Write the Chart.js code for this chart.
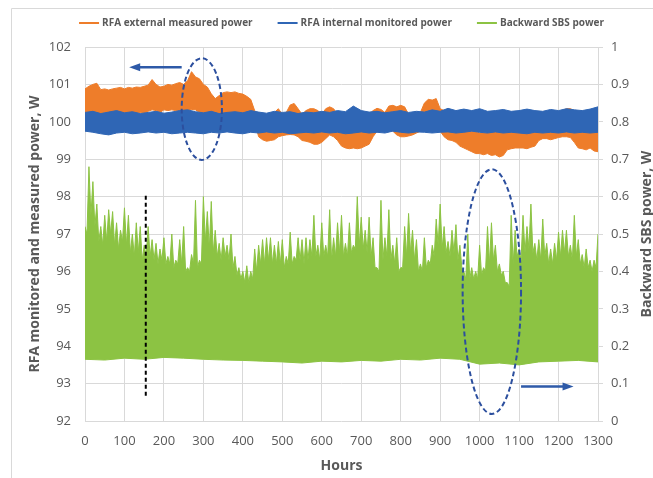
<!DOCTYPE html>
<html>
<head>
<meta charset="utf-8">
<script src="https://cdn.jsdelivr.net/npm/chart.js@4.4.1/dist/chart.umd.min.js"></script>
<style>
  html, body { margin: 0; padding: 0; background: #fff; overflow: hidden; }
</style>
</head>
<body>
<canvas id="sbsChart" width="653" height="478"></canvas>
<script>
// sampling step of each envelope, hours
var bandStep = 10;
var blueStep = 20;
var sbsLowStep = 50;

// RFA external measured power, W (upper / lower edge of the noise band)
var orangeHigh = [
  100.88, 100.95, 101.0, 101.03, 100.86, 100.88, 100.85, 100.88, 100.9, 100.92,
  100.88, 100.92, 100.9, 100.93, 100.92, 100.95, 100.98, 101.13, 101.0, 100.93,
  100.95, 101.0, 100.98, 101.02, 101.05, 101.0, 101.1, 101.34, 101.2, 101.15,
  101.0, 100.93, 100.75, 100.62, 100.7, 100.78, 100.8, 100.78, 100.8, 100.76,
  100.74, 100.68, 100.6, 100.3, 100.2, 100.15, 100.15, 100.2, 100.25, 100.35,
  100.2, 100.25, 100.45, 100.49, 100.35, 100.2, 100.3, 100.35, 100.35, 100.3,
  100.2, 100.35, 100.4, 100.35, 100.2, 100.1, 100.1, 100.1, 100.1, 100.1,
  100.15, 100.15, 100.2, 100.3, 100.36, 100.33, 100.25, 100.42, 100.44, 100.4,
  100.44, 100.4, 100.2, 100.15, 100.2, 100.25, 100.5, 100.6, 100.58, 100.62,
  100.35, 100.3, 100.1, 100.0, 99.95, 99.9, 99.85, 99.8, 99.75, 99.75,
  99.7, 99.7, 99.7, 99.72, 99.75, 99.7, 99.75, 99.8, 99.85, 99.85,
  99.8, 99.85, 99.85, 99.9, 99.95, 100.1, 100.15, 100.2, 100.15, 100.2,
  100.2, 100.3, 100.35, 100.35, 100.3, 100.2, 100.05, 99.95, 99.9, 99.9,
  99.9
];
var orangeLow = [
  100.22, 100.2, 100.25, 100.22, 100.2, 100.25, 100.2, 100.22, 100.25, 100.2,
  100.22, 100.25, 100.2, 100.22, 100.25, 100.22, 100.28, 100.32, 100.3, 100.25,
  100.32, 100.3, 100.32, 100.3, 100.28, 100.25, 100.3, 100.33, 100.32, 100.25,
  100.22, 100.2, 100.15, 100.1, 100.1, 100.15, 100.15, 100.1, 100.1, 100.05,
  100.0, 100.0, 100.0, 100.0, 99.6, 99.52, 99.48, 99.5, 99.52, 99.6,
  99.63, 99.65, 99.66, 99.65, 99.6, 99.5, 99.48, 99.45, 99.4, 99.4,
  99.45, 99.55, 99.65, 99.6, 99.5, 99.35, 99.3, 99.28, 99.3, 99.28,
  99.3, 99.35, 99.4, 99.6, 99.75, 99.8, 99.8, 99.8, 99.75, 99.65,
  99.6, 99.6, 99.62, 99.65, 99.7, 99.75, 99.8, 99.85, 99.85, 99.8,
  99.75, 99.6, 99.52, 99.5, 99.45, 99.35, 99.3, 99.25, 99.2, 99.15,
  99.15, 99.12, 99.15, 99.1, 99.12, 99.06, 99.1, 99.25, 99.28, 99.3,
  99.3, 99.3, 99.28, 99.32, 99.35, 99.5, 99.55, 99.55, 99.52, 99.55,
  99.58, 99.6, 99.6, 99.58, 99.45, 99.3, 99.28, 99.25, 99.3, 99.22,
  99.2
];

// RFA internal monitored power, W
var blueHigh = [
  100.25, 100.28, 100.22, 100.26, 100.3, 100.24, 100.27, 100.22, 100.25, 100.28,
  100.23, 100.26, 100.3, 100.32, 100.27, 100.24, 100.28, 100.22, 100.25, 100.27,
  100.24, 100.3, 100.26, 100.23, 100.28, 100.25, 100.27, 100.22, 100.26, 100.24,
  100.28, 100.25, 100.3, 100.27, 100.42, 100.3, 100.26, 100.28, 100.24, 100.27,
  100.3, 100.25, 100.28, 100.26, 100.32, 100.28, 100.36, 100.3, 100.34, 100.3,
  100.35, 100.28, 100.3, 100.33, 100.28, 100.3, 100.34, 100.3, 100.28, 100.33,
  100.3, 100.35, 100.32, 100.3, 100.34, 100.4
];
var blueLow = [
  99.75, 99.72, 99.68, 99.65, 99.7, 99.72, 99.68, 99.7, 99.73, 99.7,
  99.72, 99.68, 99.7, 99.72, 99.7, 99.68, 99.72, 99.7, 99.73, 99.7,
  99.68, 99.72, 99.7, 99.73, 99.7, 99.72, 99.68, 99.7, 99.72, 99.7,
  99.73, 99.7, 99.72, 99.68, 99.7, 99.73, 99.7, 99.72, 99.7, 99.75,
  99.72, 99.7, 99.73, 99.72, 99.7, 99.72, 99.73, 99.7, 99.72, 99.75,
  99.72, 99.7, 99.73, 99.7, 99.72, 99.7, 99.68, 99.72, 99.7, 99.72,
  99.7, 99.73, 99.7, 99.72, 99.7, 99.72
];

// Backward SBS power, W (right axis): spike tops at 0,10,20... h
var sbsPeaks = [
  0.52, 0.68, 0.64, 0.58, 0.52, 0.55, 0.565, 0.56, 0.53, 0.51,
  0.57, 0.55, 0.50, 0.53, 0.52, 0.47, 0.52, 0.485, 0.475, 0.46,
  0.49, 0.44, 0.50, 0.43, 0.485, 0.52, 0.41, 0.445, 0.59, 0.43,
  0.60, 0.56, 0.587, 0.51, 0.475, 0.49, 0.47, 0.50, 0.44, 0.41,
  0.40, 0.415, 0.40, 0.46, 0.47, 0.485, 0.49, 0.49, 0.47, 0.48,
  0.485, 0.44, 0.505, 0.44, 0.49, 0.485, 0.49, 0.485, 0.55, 0.47,
  0.53, 0.47, 0.565, 0.49, 0.53, 0.55, 0.475, 0.53, 0.47, 0.60,
  0.545, 0.51, 0.545, 0.49, 0.41, 0.59, 0.49, 0.565, 0.47, 0.49,
  0.41, 0.52, 0.555, 0.51, 0.485, 0.42, 0.49, 0.43, 0.47, 0.54,
  0.58, 0.52, 0.48, 0.51, 0.525, 0.47, 0.40, 0.50, 0.41, 0.40,
  0.47, 0.41, 0.52, 0.53, 0.47, 0.42, 0.40, 0.37, 0.55, 0.51,
  0.46, 0.55, 0.52, 0.58, 0.475, 0.485, 0.54, 0.475, 0.46, 0.475,
  0.505, 0.51, 0.51, 0.47, 0.55, 0.485, 0.445, 0.46, 0.43, 0.43,
  0.50
];
// top of the dense body between spikes, at 5,15,25... h
var sbsFloor = [
  0.50, 0.55, 0.52, 0.48, 0.47, 0.48, 0.50, 0.47, 0.46, 0.48,
  0.47, 0.45, 0.44, 0.45, 0.43, 0.44, 0.44, 0.43, 0.42, 0.43,
  0.42, 0.42, 0.41, 0.42, 0.42, 0.40, 0.40, 0.42, 0.41, 0.42,
  0.48, 0.46, 0.45, 0.44, 0.43, 0.44, 0.43, 0.41, 0.39, 0.38,
  0.37, 0.37, 0.38, 0.40, 0.42, 0.42, 0.43, 0.42, 0.42, 0.42,
  0.41, 0.42, 0.42, 0.43, 0.43, 0.42, 0.43, 0.44, 0.44, 0.43,
  0.44, 0.44, 0.43, 0.44, 0.45, 0.44, 0.44, 0.45, 0.46, 0.47,
  0.46, 0.45, 0.44, 0.41, 0.40, 0.43, 0.44, 0.43, 0.42, 0.40,
  0.41, 0.44, 0.45, 0.43, 0.40, 0.40, 0.41, 0.42, 0.44, 0.47,
  0.46, 0.45, 0.44, 0.45, 0.43, 0.41, 0.38, 0.38, 0.38, 0.38,
  0.39, 0.40, 0.42, 0.43, 0.40, 0.39, 0.37, 0.36, 0.42, 0.44,
  0.43, 0.45, 0.46, 0.45, 0.43, 0.43, 0.44, 0.42, 0.42, 0.43,
  0.44, 0.45, 0.44, 0.43, 0.44, 0.42, 0.41, 0.41, 0.40, 0.41
];
var sbsLow = [
  0.165, 0.163, 0.168, 0.165, 0.17, 0.168, 0.165, 0.163, 0.162, 0.16,
  0.158, 0.155, 0.16, 0.158, 0.162, 0.16, 0.165, 0.163, 0.168, 0.165,
  0.152, 0.155, 0.15, 0.158, 0.16, 0.162, 0.158
];

var seriesNames = ['RFA external measured power', 'RFA internal monitored power', 'Backward SBS power'];
var seriesColors = ['#ee7d2a', '#2f66b5', '#8cc343'];

// annotation marks, in data units
var ovals = [
  { x: 296, y: 100.34, rx: 51, ry: 1.36, axis: 'y' },
  { x: 1031, y: 0.346, rx: 74, ry: 0.327, axis: 'y2' }
];
var arrows = [
  { from: 245, to: 112, y: 101.46, axis: 'y' },
  { from: 1105, to: 1238, y: 0.092, axis: 'y2' }
];
var markerLine = { x: 154, top: 98.02, bottom: 92.65 };

var textGrey = '#595959';
var gridGrey = '#d9d9d9';
var fontFamily = "'Open Sans', 'Liberation Sans', sans-serif";

function toPoints(values, step, offset) {
  return values.map(function (v, i) { return { x: (offset || 0) + i * step, y: v }; });
}

// spike tops and body tops merged in hour order
function sbsTopPoints() {
  var pts = [];
  sbsPeaks.forEach(function (v, i) {
    pts.push({ x: i * bandStep, y: v });
    if (i < sbsFloor.length) pts.push({ x: i * bandStep + bandStep / 2, y: sbsFloor[i] });
  });
  return pts;
}

function band(points, color, axis, fillTo, order) {
  return {
    data: points,
    yAxisID: axis,
    borderColor: color,
    backgroundColor: color,
    borderWidth: 1,
    pointRadius: 0,
    tension: 0,
    fill: fillTo,
    order: order
  };
}

var extras = {
  id: 'extras',
  afterDatasetsDraw: function (chart) {
    var ctx = chart.ctx;
    var xs = chart.scales.x;
    ctx.save();

    // dashed ovals
    ctx.strokeStyle = '#2c4f9e';
    ctx.lineWidth = 2;
    ctx.setLineDash([5, 3]);
    ovals.forEach(function (o) {
      var ys = chart.scales[o.axis];
      var cx = xs.getPixelForValue(o.x);
      var cy = ys.getPixelForValue(o.y);
      var rx = Math.abs(xs.getPixelForValue(o.x + o.rx) - cx);
      var ry = Math.abs(ys.getPixelForValue(o.y + o.ry) - cy);
      ctx.beginPath();
      ctx.ellipse(cx, cy, rx, ry, 0, 0, Math.PI * 2);
      ctx.stroke();
    });

    // black dashed marker
    ctx.strokeStyle = '#000';
    ctx.setLineDash([4, 3]);
    var mx = xs.getPixelForValue(markerLine.x);
    ctx.beginPath();
    ctx.moveTo(mx, chart.scales.y.getPixelForValue(markerLine.top));
    ctx.lineTo(mx, chart.scales.y.getPixelForValue(markerLine.bottom));
    ctx.stroke();

    // axis arrows
    ctx.setLineDash([]);
    ctx.strokeStyle = '#2e5aa8';
    ctx.fillStyle = '#2e5aa8';
    ctx.lineWidth = 2.5;
    arrows.forEach(function (a) {
      var y = chart.scales[a.axis].getPixelForValue(a.y);
      var x1 = xs.getPixelForValue(a.from);
      var x2 = xs.getPixelForValue(a.to);
      var dir = x2 > x1 ? 1 : -1;
      ctx.beginPath();
      ctx.moveTo(x1, y);
      ctx.lineTo(x2 - dir * 8, y);
      ctx.stroke();
      ctx.beginPath();
      ctx.moveTo(x2, y);
      ctx.lineTo(x2 - dir * 11, y - 4);
      ctx.lineTo(x2 - dir * 11, y + 4);
      ctx.closePath();
      ctx.fill();
    });
    ctx.restore();
  },
  afterDraw: function (chart) {
    var ctx = chart.ctx;
    var area = chart.chartArea;
    ctx.save();

    // outer frame
    ctx.strokeStyle = gridGrey;
    ctx.lineWidth = 1;
    ctx.beginPath();
    ctx.moveTo(11.5, chart.height);
    ctx.lineTo(11.5, 8.5);
    ctx.lineTo(chart.width, 8.5);
    ctx.stroke();

    // legend
    ctx.font = 'bold 10px ' + fontFamily;
    ctx.textBaseline = 'middle';
    var lineLen = 20, gapText = 3, gapItem = 25;
    var widths = seriesNames.map(function (t) { return ctx.measureText(t).width; });
    var total = widths.reduce(function (s, w) { return s + lineLen + gapText + w; }, 0) + gapItem * (seriesNames.length - 1);
    var x = (area.left + area.right) / 2 - total / 2;
    var ly = 23;
    seriesNames.forEach(function (t, i) {
      ctx.strokeStyle = seriesColors[i];
      ctx.lineWidth = 2;
      ctx.beginPath();
      ctx.moveTo(x, ly);
      ctx.lineTo(x + lineLen, ly);
      ctx.stroke();
      ctx.fillStyle = textGrey;
      ctx.textAlign = 'left';
      ctx.fillText(t, x + lineLen + gapText, ly);
      x += lineLen + gapText + widths[i] + gapItem;
    });

    // right axis title, reading bottom to top
    ctx.font = 'bold 14px ' + fontFamily;
    ctx.fillStyle = textGrey;
    ctx.textAlign = 'center';
    ctx.translate(647, (area.top + area.bottom) / 2);
    ctx.rotate(-Math.PI / 2);
    ctx.fillText('Backward SBS power, W', 0, 0);
    ctx.restore();
  }
};

var ctx = document.getElementById('sbsChart').getContext('2d');

new Chart(ctx, {
  type: 'line',
  data: {
    datasets: [
      band(toPoints(orangeHigh, bandStep), seriesColors[0], 'y', 1, 2),
      band(toPoints(orangeLow, bandStep), seriesColors[0], 'y', false, 2),
      band(toPoints(blueHigh, blueStep), seriesColors[1], 'y', 3, 1),
      band(toPoints(blueLow, blueStep), seriesColors[1], 'y', false, 1),
      band(sbsTopPoints(), seriesColors[2], 'y2', 5, 3),
      band(toPoints(sbsLow, sbsLowStep), seriesColors[2], 'y2', false, 3)
    ]
  },
  options: {
    responsive: false,
    animation: false,
    devicePixelRatio: 1,
    layout: { padding: { top: 47, left: 0, right: 0, bottom: 0 } },
    plugins: {
      legend: { display: false },
      tooltip: { enabled: false }
    },
    scales: {
      x: {
        type: 'linear',
        min: 0,
        max: 1300,
        ticks: {
          stepSize: 100,
          padding: 12,
          color: textGrey,
          font: { family: fontFamily, size: 13 },
          callback: function (v) { return String(v); }
        },
        grid: { color: gridGrey, drawTicks: false },
        border: { display: false },
        title: {
          display: true,
          text: 'Hours',
          color: textGrey,
          font: { family: fontFamily, size: 14, weight: 'bold' },
          padding: { top: 0, bottom: 4 }
        },
        afterFit: function (s) { s.height = 57; }
      },
      y: {
        position: 'left',
        min: 92,
        max: 102,
        ticks: { stepSize: 1, padding: 14, color: textGrey, font: { family: fontFamily, size: 13 } },
        grid: { color: gridGrey, drawTicks: false },
        border: { display: false },
        title: {
          display: true,
          text: 'RFA monitored and measured power, W',
          color: textGrey,
          font: { family: fontFamily, size: 14, weight: 'bold' },
          padding: { top: 27, bottom: 0 }
        },
        afterFit: function (s) { s.width = 85; }
      },
      y2: {
        position: 'right',
        min: 0,
        max: 1,
        ticks: {
          stepSize: 0.1,
          padding: 8,
          color: textGrey,
          font: { family: fontFamily, size: 13 },
          callback: function (v) { return String(Math.round(v * 10) / 10); }
        },
        grid: { drawOnChartArea: false, drawTicks: true, tickLength: 5, color: gridGrey },
        border: { display: false },
        afterFit: function (s) { s.width = 55; }
      }
    }
  },
  plugins: [extras]
});
</script>
</body>
</html>
